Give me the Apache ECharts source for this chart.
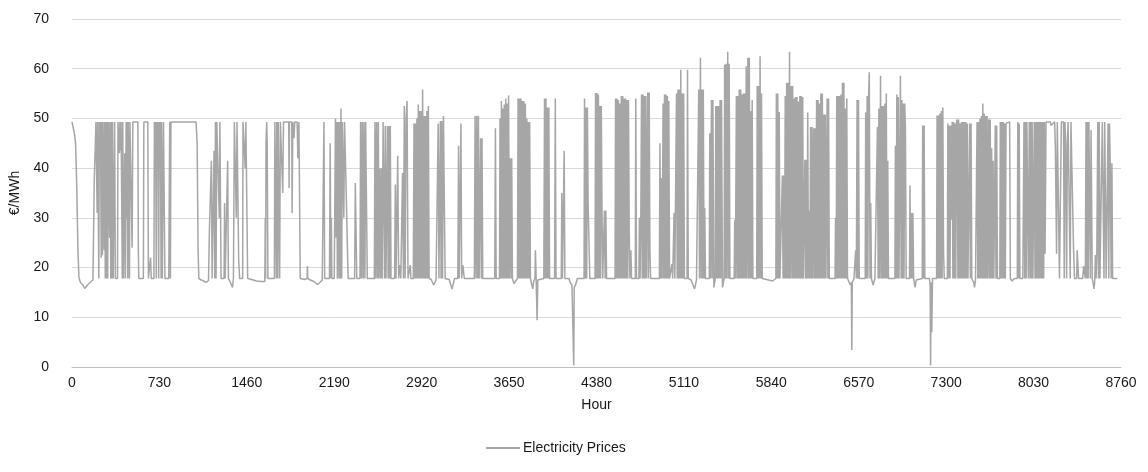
<!DOCTYPE html>
<html>
<head>
<meta charset="utf-8">
<script src="https://cdn.jsdelivr.net/npm/echarts@6/dist/echarts.min.js"></script>
<style>html,body{margin:0;padding:0;background:#fff}#c{width:1148px;height:472px}</style>
</head>
<body>
<div id="c"></div>
<script>
// Hourly electricity prices (€/MWh), as [hour, price] pairs
const winterPrices = [[0,49.3],[10,49],[20,47],[30,45],[40,36],[50,23],[58,18],[70,17],[90,16.5],[106,15.8],[130,16.5],[150,17],[175,17.5],[183,17.8],[186,37.6],[194,37.8],[200,49.3],[206,49.3],[210,31],[214,49.3],[220,49.3],[224,17.8],[228,49.3],[234,45],[238,49.3],[244,22],[248,49.3],[254,22.5],[258,49.3],[264,49.3],[268,23.5],[272,49.3],[278,17.8],[282,49.3],[288,17.8],[292,49.3],[298,17.8],[304,49.3],[310,49.3],[314,26],[318,49.3],[324,17.8],[328,49.3],[334,17.8],[338,49.3],[344,17.8],[350,17.6],[356,49.3],[362,17.8],[366,17.8],[380,17.8],[384,49.3],[390,49.3],[396,43],[400,49.3],[406,43.5],[410,49.3],[416,49.3],[420,17.8],[424,49.3],[430,17.8],[436,17.8],[440,43],[446,17.8],[452,49.3],[456,30],[460,49.3],[466,17.8],[470,49.3],[476,49.3],[480,17.8],[484,49.3],[490,49.3],[496,49.3],[502,24],[508,49.3],[550,49.3],[554,23.5],[558,17.8],[596,17.8],[600,49.3],[633,49.3],[638,17.8],[650,17.8],[656,22],[662,17.8],[684,17.8],[688,49.3],[694,46],[698,49.3],[704,17.8],[708,49.3],[714,45],[718,49.3],[724,17.8],[728,49.3],[734,40],[738,49.3],[744,17.8],[748,49.3],[754,17.8],[758,17.8],[764,49.3],[770,49.3],[776,17.8],[790,17.8],[808,17.8],[816,49.3],[822,17.8],[826,49.3],[1036,49.3],[1045,45],[1053,23.5],[1059,17.8],[1080,17.5],[1100,17.3],[1120,17.0],[1140,17.4],[1146,17.8],[1148,28],[1154,28],[1164,41.5],[1170,17.8],[1183,17.8],[1186,43.5],[1192,17.8],[1198,49.3],[1203,17.8],[1209,49.3],[1225,49.3],[1230,30],[1235,49.3],[1239,49.3],[1245,17.8],[1270,17.8],[1274,33],[1279,17.8],[1295,17.8],[1300,41.5],[1306,17.8],[1320,17.2],[1340,16],[1348,17.8],[1356,49.3],[1366,49.3],[1372,30],[1378,49.3],[1384,49.3],[1392,21.5],[1400,17.8],[1425,17.8],[1428,49.3],[1440,49.3],[1446,40],[1452,49.3],[1461,49.3],[1467,17.8],[1500,17.6],[1540,17.3],[1580,17.2],[1610,17.2],[1614,30],[1617,17.8],[1620,45],[1626,49.3],[1630,45],[1636,17.8],[1690,17.8],[1694,49.3],[1702,49.3],[1706,17.8],[1710,49.3],[1718,17.8],[1722,49.3],[1728,49.3],[1734,17.8],[1740,49.3],[1750,49.3],[1760,35],[1766,49.3],[1810,49.3],[1813,36],[1816,49.3],[1835,49.3],[1838,31],[1844,49.3],[1854,46],[1860,49.3],[1880,49.3],[1886,42],[1895,49.3],[1900,35],[1906,17.8],[1940,17.6],[1963,17.8],[1966,20.3],[1969,17.8],[1990,17.5],[2020,17.2],[2050,16.6],[2070,17],[2090,17.5],[2100,17.8],[2104,49.3],[2110,17.8],[2150,17.8],[2156,45],[2162,17.8],[2166,30],[2170,17.8],[2190,17.8]];

const springPrices = [[2195,17.8],[2200,50],[2206,26],[2210,49.3],[2216,17.8],[2222,49.3],[2230,17.8],[2235,49.3],[2240,17.8],[2246,52],[2252,17.8],[2258,49.3],[2264,49.3],[2270,30],[2276,49.3],[2284,49.3],[2290,35],[2298,26],[2306,17.8],[2360,17.8],[2366,37],[2372,37],[2378,17.8],[2405,17.8],[2410,49.3],[2418,17.8],[2424,49.3],[2432,17.8],[2438,49.3],[2446,17.8],[2452,49.3],[2460,49.3],[2466,17.8],[2525,17.8],[2530,49.3],[2538,17.8],[2544,49.3],[2552,17.8],[2558,49.3],[2564,17.8],[2570,40],[2578,17.8],[2584,40],[2590,17.8],[2598,49.3],[2604,49.3],[2610,17.8],[2616,48.5],[2622,17.8],[2628,33],[2634,48.5],[2640,17.8],[2646,48.5],[2652,17.8],[2658,48.5],[2664,17.8],[2694,17.8],[2700,36.7],[2706,17.8],[2720,42.5],[2728,17.8],[2740,20.5],[2746,17.8],[2760,39],[2768,17.8],[2775,52.5],[2782,17.8],[2790,50],[2798,53.5],[2806,17.8],[2825,20.5],[2830,17.8],[2850,17.8],[2856,49],[2862,17.8],[2868,49],[2874,17.8],[2880,50],[2886,17.8],[2892,52.8],[2898,17.8],[2904,51.5],[2910,17.8],[2916,51.5],[2922,17.8],[2928,55.8],[2934,17.8],[2940,50.5],[2946,17.8],[2952,50.5],[2958,17.8],[2964,51.5],[2970,17.8],[2976,52.5],[2982,17.8],[3000,17.6],[3020,16.5],[3040,17.5],[3054,17.8],[3058,49],[3064,17.8],[3076,49.5],[3082,17.8],[3088,49.5],[3094,17.8],[3102,50.5],[3110,50.5],[3116,17.8],[3150,17.6],[3173,15.7],[3181,15.7],[3195,17.8],[3222,17.8],[3228,44.5],[3234,17.8],[3248,49],[3254,17.8],[3264,20.5],[3270,20.5],[3276,17.8],[3360,17.8],[3366,50.5],[3374,17.8],[3380,50.5],[3388,17.8],[3394,50.5],[3400,17.8],[3412,46],[3418,17.8],[3424,46],[3430,17.8],[3530,17.8],[3536,48],[3542,17.8],[3570,17.8],[3574,50],[3580,17.8],[3586,53.5],[3592,17.8],[3598,52],[3604,17.8],[3610,52.8],[3616,17.8],[3622,54],[3628,17.8],[3634,53],[3640,17.8],[3646,54.6],[3652,17.8],[3660,42],[3666,17.8],[3672,42],[3678,17.8],[3690,16.8],[3720,17.8],[3725,54],[3731,17.8],[3737,54],[3743,17.8],[3749,54],[3755,17.8],[3761,53.5],[3767,17.8],[3773,53.5],[3779,17.8],[3786,53],[3792,17.8],[3798,50],[3804,17.8],[3810,49.3],[3816,17.8],[3822,49.3],[3828,17.8],[3840,16.5],[3848,15.7],[3856,17.3],[3866,17.8],[3870,23.5],[3876,17.8],[3884,9.4],[3890,17.5],[3940,17.8],[3946,54],[3952,17.8],[3958,54],[3964,17.8],[3970,52.2],[3976,17.8],[3982,52.2],[3988,17.8],[4030,17.8],[4036,54],[4042,17.8],[4086,17.8],[4090,35],[4096,17.8],[4106,17.8],[4110,43.5],[4116,17.8],[4150,17.8],[4160,17],[4175,16.5],[4186,16.5],[4190,0.3],[4194,16],[4205,16.5],[4220,17.8],[4276,17.8],[4280,54],[4286,17.8],[4292,52.2],[4298,17.8],[4304,52.2],[4310,33],[4318,33],[4324,17.8],[4368,17.8],[4372,55.1],[4378,17.8]];

const summerPrices = [[4384,55.1],[4390,17.8],[4396,54.8],[4402,17.8],[4408,52.5],[4414,17.8],[4420,52.5],[4426,31.5],[4432,17.8],[4446,31.5],[4452,17.8],[4458,31.5],[4464,17.8],[4535,17.8],[4539,54],[4545,17.8],[4551,54],[4557,17.8],[4563,53.7],[4569,17.8],[4575,53],[4581,17.8],[4587,54.5],[4593,17.8],[4599,54.5],[4605,17.8],[4611,54],[4617,17.8],[4623,54],[4629,17.8],[4635,53.7],[4641,17.8],[4647,53.7],[4653,28],[4659,17.8],[4667,23.5],[4673,17.8],[4704,17.8],[4708,54],[4714,17.8],[4734,17.8],[4738,30],[4744,17.8],[4750,30],[4756,54.8],[4762,17.8],[4768,54.8],[4774,17.8],[4780,54.5],[4786,17.8],[4792,54.5],[4798,17.8],[4808,55.2],[4814,17.8],[4820,55.2],[4826,23.5],[4832,17.8],[4905,17.8],[4910,45],[4916,17.8],[4922,38],[4928,17.8],[4936,53],[4942,17.8],[4948,54.8],[4954,17.8],[4960,54.8],[4966,17.8],[4972,54.5],[4978,17.8],[4984,53.5],[4990,17.8],[5010,20.7],[5016,17.8],[5028,31],[5034,17.8],[5048,55],[5054,17.8],[5060,55.8],[5066,17.8],[5072,55.8],[5078,17.8],[5084,59.8],[5090,17.8],[5096,55],[5102,17.8],[5108,55],[5114,17.8],[5136,17.8],[5140,59.8],[5146,17.8],[5170,17.5],[5199,15.7],[5215,17.5],[5230,17.8],[5234,55.8],[5240,17.8],[5248,62.2],[5254,17.8],[5260,55.8],[5266,17.8],[5272,55.8],[5278,17.8],[5284,32],[5290,17.8],[5322,17.8],[5326,47],[5332,17.8],[5340,53.7],[5346,17.8],[5352,53.7],[5360,16],[5372,17.8],[5376,52.5],[5382,17.8],[5388,52.5],[5394,17.8],[5400,52.5],[5406,17.8],[5412,53.7],[5418,17.8],[5424,53.7],[5432,16],[5446,17.8],[5450,60.8],[5456,17.8],[5462,61],[5468,17.8],[5476,63.4],[5482,17.8],[5488,61],[5494,17.8],[5530,17.8],[5534,29.6],[5540,17.8],[5548,54.5],[5554,17.8],[5560,54.5],[5566,17.8],[5572,55.8],[5578,17.8],[5584,55.8],[5590,17.8],[5596,54.8],[5602,17.8],[5608,55],[5614,17.8],[5620,55],[5626,17.8],[5630,60.5],[5636,17.8],[5644,62.2],[5650,17.8],[5656,62.2],[5662,17.8],[5668,51.5],[5674,17.8],[5680,53.7],[5686,17.8],[5718,17.8],[5722,56.5],[5728,17.8],[5734,56.5],[5740,17.8],[5746,62.5],[5752,17.8],[5758,55],[5764,17.8],[5800,17.6],[5850,17.3],[5878,17.8],[5882,55],[5888,17.8],[5894,55],[5900,17.8],[5906,51.3],[5912,17.8],[5928,17.8],[5932,38.5],[5938,17.8],[5944,38.5],[5950,17.8],[5956,54.5],[5962,17.8],[5968,57.2],[5974,17.8],[5980,57.2],[5986,17.8],[5992,63.4],[5998,17.8],[6006,56.5],[6012,17.8],[6018,56.5],[6024,17.8],[6030,54],[6036,17.8],[6042,54.3],[6048,17.8],[6054,54.3],[6060,17.8],[6066,53.4],[6072,17.8],[6078,54.5],[6084,17.8],[6090,54.5],[6096,17.8],[6102,54.3],[6108,17.8],[6120,41.7],[6126,17.8],[6132,41.7],[6138,17.8],[6144,51.2],[6150,17.8],[6156,31.5],[6162,17.8],[6168,48.3],[6174,17.8],[6180,48.3],[6186,17.8],[6194,48],[6200,17.8],[6206,48],[6212,17.8],[6218,53.7],[6224,17.8],[6230,53.7],[6236,17.8],[6242,53],[6248,17.8],[6254,55],[6260,17.8],[6266,55],[6272,17.8],[6278,50.8],[6284,17.8],[6290,50.8],[6296,17.8],[6306,54],[6312,17.8],[6318,54],[6324,17.8],[6372,17.8],[6376,30],[6382,17.8],[6386,54.5],[6392,17.8],[6398,54.5],[6404,17.8],[6410,54.5],[6416,17.8],[6422,54.8],[6428,17.8],[6434,57.2],[6440,17.8],[6446,57.2],[6452,17.8],[6458,52],[6464,17.8],[6470,54],[6476,17.8],[6490,17.5],[6500,16.5],[6508,17],[6512,3.4],[6516,17],[6530,17.8],[6540,17.8],[6544,23.5],[6550,17.8],[6556,53.7],[6562,17.8],[6568,53.7],[6574,17.8]];

const autumnPrices = [[6624,17.8],[6628,51.2],[6634,17.8],[6640,54.5],[6646,17.8],[6652,54.5],[6658,59.3],[6664,17.8],[6670,33],[6676,17.8],[6690,16.5],[6705,17.8],[6720,17.8],[6726,48.3],[6732,17.8],[6738,52],[6744,17.8],[6752,58.6],[6758,17.8],[6764,52.5],[6770,17.8],[6776,52.5],[6782,17.8],[6788,53],[6794,17.8],[6800,55],[6806,17.8],[6812,41.5],[6818,17.8],[6872,17.8],[6876,44.5],[6882,17.8],[6888,54.8],[6894,17.8],[6900,54.3],[6906,17.8],[6918,58.6],[6924,17.8],[6930,53.7],[6936,17.8],[6942,53],[6948,17.8],[6954,53],[6960,47.6],[6966,17.8],[6994,17.8],[6998,36.5],[7004,17.8],[7010,31],[7016,17.8],[7022,31],[7028,17.8],[7040,16],[7050,17.5],[7100,17.8],[7104,48.6],[7110,17.8],[7116,48.6],[7122,17.8],[7160,17.8],[7166,16.5],[7170,0.3],[7174,17],[7180,7],[7186,17.8],[7220,17.8],[7224,50.6],[7230,17.8],[7236,50.6],[7242,17.8],[7248,51],[7254,17.8],[7260,51.5],[7266,17.8],[7272,52.2],[7278,23.5],[7284,17.8],[7310,17.8],[7314,49],[7320,17.8],[7326,48.6],[7332,17.8],[7338,48.6],[7344,29.6],[7350,49.3],[7356,17.8],[7362,49.3],[7368,17.8],[7374,49],[7380,17.8],[7386,49],[7392,49.8],[7398,17.8],[7404,49.8],[7410,17.8],[7416,49],[7422,17.8],[7428,49.3],[7434,17.8],[7440,49.3],[7446,17.8],[7452,49.3],[7458,17.8],[7464,49.3],[7470,17.8],[7476,49],[7482,17.8],[7490,17.8],[7496,49],[7502,17.8],[7508,49],[7514,17.8],[7530,17],[7537,16],[7545,17.5],[7555,17.8],[7558,49.3],[7564,17.8],[7570,49.3],[7576,17.8],[7582,50],[7588,17.8],[7594,50.5],[7600,17.8],[7606,53],[7612,17.8],[7618,51],[7624,17.8],[7630,50.5],[7636,17.8],[7642,50.5],[7648,17.8],[7656,49.8],[7662,17.8],[7668,49.8],[7674,17.8],[7680,44],[7686,17.8],[7692,41.5],[7698,17.8],[7710,48.6],[7716,17.8],[7722,48.6],[7728,17.8],[7748,17.8],[7752,49.3],[7758,17.8],[7764,49.3],[7770,17.8],[7776,49.3],[7782,17.8],[7788,49],[7794,17.8],[7800,49],[7806,49.3],[7830,49.3],[7836,17.8],[7850,17.3],[7870,17.8],[7894,17.8],[7898,49.3],[7904,17.8],[7910,49],[7916,17.8],[7940,17.8],[7950,49.3],[7956,17.8],[7962,49.3],[7968,17.8],[7974,49.3],[7980,49.3],[7986,17.8],[7994,49.3],[8000,17.8],[8006,49.3],[8012,17.8],[8018,49.3],[8024,17.8],[8036,49.3],[8042,17.8],[8048,49.3],[8054,17.8],[8060,49.3],[8066,17.8],[8072,49.3],[8078,17.8],[8084,49.3],[8090,17.8],[8096,49.3],[8102,17.8],[8108,49.3],[8114,17.8],[8120,49.3],[8126,22.8],[8134,49.3],[8170,49.3],[8175,48.6],[8206,49.3],[8212,44],[8222,22.8],[8228,49.3],[8240,49.3],[8246,17.8],[8256,17.8],[8262,49.3],[8280,49.3],[8286,17.8],[8292,49.3],[8298,45],[8306,17.8],[8312,45],[8318,49.3],[8330,49.3],[8336,17.8],[8342,49.3],[8356,49.3],[8364,23.5],[8372,17.8],[8390,17.8],[8394,23.5],[8402,23.5],[8406,17.8],[8440,17.8],[8448,20.3],[8456,20.3],[8462,17.8],[8468,49.3],[8474,17.8],[8480,49.3],[8486,17.8],[8492,49.3],[8498,49.3],[8504,17.8],[8510,47.6],[8520,17.8],[8535,15.7],[8540,17],[8546,22.5],[8552,17.8],[8558,22.5],[8566,49.3],[8572,17.8],[8578,49.3],[8584,17.8],[8600,17.8],[8604,49.3],[8612,49.3],[8618,17.8],[8624,49.3],[8630,49.3],[8636,17.8],[8648,17.8],[8652,49],[8658,17.8],[8664,49],[8670,41],[8678,17.8],[8684,41],[8690,17.8],[8720,17.8],[8730,17.8]];

const yTicks = {min: 0, max: 70, interval: 10};
const xTicks = {min: 0, max: 8760, interval: 730};

const prices = winterPrices.concat(springPrices, summerPrices, autumnPrices);

const chart = echarts.init(document.getElementById('c'), null, {renderer: 'canvas'});
const font = '"Liberation Sans", Arial, sans-serif';
const txt = '#1a1a1a';
chart.setOption({
  animation: false,
  textStyle: {fontFamily: font},
  grid: {left: 70, right: 27, top: 19, bottom: 105, containLabel: false},
  xAxis: {
    type: 'value', min: xTicks.min, max: xTicks.max, interval: xTicks.interval,
    name: 'Hour', nameLocation: 'middle', nameGap: 31,
    nameTextStyle: {color: txt, fontSize: 14, fontFamily: font},
    axisLine: {show: true, lineStyle: {color: '#BFBFBF', width: 1}},
    axisTick: {show: false},
    splitLine: {show: false},
    axisLabel: {color: txt, fontSize: 14, margin: 9, fontFamily: font, formatter: v => String(v)}
  },
  yAxis: {
    type: 'value', min: yTicks.min, max: yTicks.max, interval: yTicks.interval,
    name: '€/MWh', nameLocation: 'middle', nameGap: 50, nameRotate: 90,
    nameTextStyle: {color: txt, fontSize: 14, fontFamily: font},
    axisLine: {show: false}, axisTick: {show: false},
    splitLine: {lineStyle: {color: '#D9D9D9', width: 1}},
    axisLabel: {color: txt, fontSize: 14, margin: 23, fontFamily: font}
  },
  legend: {
    bottom: 12, left: 481,
    itemWidth: 34, itemHeight: 2, itemGap: 10,
    icon: 'rect',
    textStyle: {color: txt, fontSize: 14, fontFamily: font, padding: [0, 0, 0, -2]},
    data: ['Electricity Prices']
  },
  series: [{
    name: 'Electricity Prices', type: 'line', data: prices,
    showSymbol: false, symbol: 'none',
    lineStyle: {color: '#A6A6A6', width: 1.5},
    itemStyle: {color: '#A6A6A6'}
  }]
});
</script>
</body>
</html>
